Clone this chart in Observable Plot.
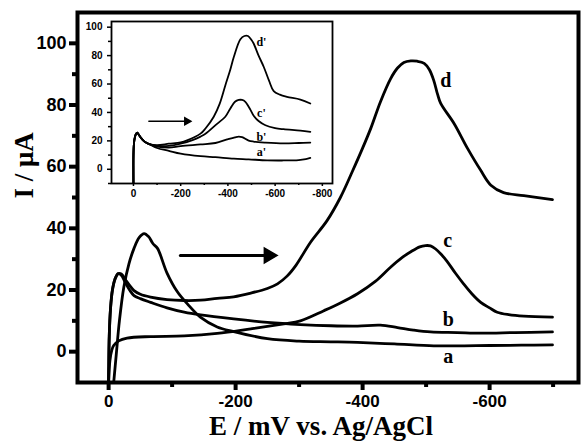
<!DOCTYPE html>
<html><head><meta charset="utf-8">
<script src="https://cdn.jsdelivr.net/npm/d3@7"></script>
<script src="https://cdn.jsdelivr.net/npm/@observablehq/plot@0.6"></script>
<style>
body{margin:0;background:#fff;}
#wrap{position:relative;width:583px;height:441px;overflow:hidden;background:#fff;}
#inset{position:absolute;left:81px;top:19px;}
</style></head><body><div id="wrap"></div>
<script>
// ---- main chart data (E in mV, I in µA) ----
const aX = [-8,-12,-17,-24,-32,-40,-48,-56,-63,-70,-77,-92,-108,-124,-145,-171,-197,-250,-300,-350,-392,-450,-512,-560,-600,-650,-699];
const aY = [-10,-1,10,21,28.5,33.5,37,38.3,37.3,35,33.5,25.5,19.5,15.5,11.1,8,6.5,4.2,3.4,3.2,3,2.5,1.9,1.9,2,2.1,2.2];
const bX = [0,-1,-3,-6,-10,-15,-20,-26,-33,-40,-50,-66,-92,-119,-145,-197,-250,-302,-350,-392,-428,-455,-480,-507,-549,-586,-640,-699];
const bY = [-10,5,14,20,23.5,25.3,24.8,22.5,20,18.2,17.2,16,14.2,12.8,11.9,10.6,9.5,8.8,8.4,8.3,8.6,7.8,7.0,6.4,6.2,6.0,6.2,6.4];
const cX = [0,-2,-5,-8,-16,-29,-66,-119,-171,-224,-276,-302,-339,-365,-392,-420,-444,-462,-476,-490,-499,-507,-515,-524,-533,-546,-559,-572,-586,-600,-612,-630,-654,-699];
const cY = [-10,-3,0.5,2,3.5,4.4,4.9,5.1,5.9,7.4,9,10,13.3,15.8,18.8,22.8,27.4,30.5,32.4,34,34.4,34.3,33.3,31.5,29.3,25.5,22,18.8,16,14.2,12.8,12,11.5,11.2];
const dX = [0,-1,-3,-6,-10,-15,-20,-26,-33,-40,-50,-66,-92,-119,-145,-171,-197,-224,-250,-266,-281,-295,-318,-344,-365,-384,-400,-413,-428,-444,-455,-465,-476,-486,-497,-505,-512,-518,-523,-544,-565,-586,-602,-622,-654,-699];
const dY = [-10,5,14,20,23.5,25.3,25.2,23.5,21.5,19.8,18.6,17.7,16.9,16.6,16.7,17.3,17.8,19,20.5,22,24.5,28,35.5,42.5,50,58.5,66,72.5,81,88.5,92,93.8,94.3,94.2,93.5,91.5,88,83.5,80.5,74,66,58.8,54,51.6,50.6,49.3];
const curveLabels = ["a","b","c","d"];
const labelX = [-535,-535,-534,-531];
const labelY = [-1.5,10.5,36,88];
const arrowX = [-113,-252];
const arrowY = [31.2,31.2];
const mainXTicks = [0,-200,-400,-600];
const mainXMinor = [-100,-300,-500,-700];
const mainYTicks = [0,20,40,60,80,100];
const mainYMinor = [10,30,50,70,90];

// ---- inset data ----
const startX = [0,0,-2,-6,-11,-16,-22,-30,-40,-51,-70];
const startY = [-10,10,18,22.5,25,25.8,24.5,22.5,20.5,19,17.5];
const iaX = [-100,-150,-200,-284,-347,-425,-488,-566,-629,-700,-730,-749];
const iaY = [15,13,11,9.2,8.5,7.5,7,6.3,6.2,6.5,7.2,8];
const ibX = [-100,-150,-200,-284,-347,-397,-430,-446,-460,-488,-509,-559,-636,-700,-749];
const ibY = [16,15.2,16.3,17.5,18.5,21,22.5,23,22.6,20.2,19.5,18.8,18.2,18.5,18.8];
const icX = [-100,-150,-200,-250,-284,-305,-354,-389,-411,-430,-446,-460,-474,-488,-495,-510,-530,-559,-600,-636,-707,-749];
const icY = [16.5,16.5,18,20.5,23,25,32,37,43,47.5,48.8,48.8,47.5,44,42,37.5,34,31,29,28.2,27.2,26.3];
const idX = [-100,-150,-200,-227,-284,-305,-340,-365,-389,-410,-425,-453,-470,-485,-500,-509,-530,-552,-575,-594,-620,-650,-707,-749];
const idY = [17,18,19,20.4,25.1,28.7,37,46,59,70,79,91.5,93.8,93.8,91,88.5,80,72,62,55,52.5,51,49.1,46.3];
const insetLabels = ["a'","b'","c'","d'"];
const insetLabelX = [-542,-542,-542,-542];
const insetLabelY = [12.2,22.7,39.2,89.6];
const insetArrowX = [-65,-226];
const insetArrowY = [33.8,33.8];
const insetXTicks = [0,-200,-400,-600,-800];
const insetXMinor = [-100,-300,-500,-700];
const insetYTicks = [0,20,40,60,80,100];
const insetYMinor = [-10,10,30,50,70,90];

const pts = (xs, ys, s) => xs.map((x, i) => ({x, y: ys[i], s}));
const mainData = [...pts(aX,aY,"a"),...pts(bX,bY,"b"),...pts(cX,cY,"c"),...pts(dX,dY,"d")];
const insetData = ["a","b","c","d"].flatMap((s, k) => {
  const xs = [[iaX,iaY],[ibX,ibY],[icX,icY],[idX,idY]][k];
  return [...pts(startX,startY,s), ...pts(xs[0],xs[1],s)];
});
const lbl = (t, xs, ys) => t.map((s, i) => ({s, x: xs[i], y: ys[i]}));
const fmt = d => String(d);
const SANS = "Liberation Sans, Arial, sans-serif";
const SERIF = "Liberation Serif, Times New Roman, serif";

const main = Plot.plot({
  width: 583, height: 441,
  marginLeft: 77, marginRight: 5, marginTop: 12, marginBottom: 59,
  x: {domain: [49, -740], label: null},
  y: {domain: [-10, 110], label: null},
  style: {background: "white", color: "black", overflow: "visible"},
  marks: [
    Plot.axisX({ticks: mainXTicks, tickFormat: fmt, tickSize: 8, tickPadding: 4, strokeWidth: 4, fontSize: 17, fontWeight: "bold", fontFamily: SANS, label: null}),
    Plot.axisX({ticks: mainXMinor, tickFormat: () => "", tickSize: 5, strokeWidth: 4, label: null}),
    Plot.axisY({ticks: mainYTicks, tickFormat: fmt, tickSize: 8, tickPadding: 3, strokeWidth: 4, fontSize: 18, fontWeight: "bold", fontFamily: SANS, label: null}),
    Plot.axisY({ticks: mainYMinor, tickFormat: () => "", tickSize: 5, strokeWidth: 4, label: null}),
    Plot.line(mainData, {x: "x", y: "y", z: "s", stroke: "black", strokeWidth: 2.8, curve: "catmull-rom", clip: true}),
    Plot.text(lbl(curveLabels, labelX, labelY), {x: "x", y: "y", text: "s", fontSize: 20, fontWeight: "bold", fontFamily: SERIF, fill: "black"}),
    Plot.line(pts(arrowX, arrowY, "arr"), {x: "x", y: "y", stroke: "black", strokeWidth: 3}),
    Plot.dot([{x: arrowX[1], y: arrowY[1]}], {x: "x", y: "y", symbol: "triangle", r: 5.5, fill: "black", stroke: "black", rotate: 90}),
    Plot.frame({strokeWidth: 4, stroke: "black"}),
    Plot.text(["E / mV vs. Ag/AgCl"], {frameAnchor: "bottom", lineAnchor: "bottom", dy: 52, dx: -7, fontSize: 27, fontWeight: "bold", fontFamily: SERIF, fill: "black"}),
    Plot.text(["I / μA"], {frameAnchor: "left", lineAnchor: "middle", rotate: -90, dx: -53, dy: 1, fontSize: 27, fontWeight: "bold", fontFamily: SERIF, fill: "black"})
  ]
});

const inset = Plot.plot({
  width: 255, height: 180,
  marginLeft: 30, marginRight: 4, marginTop: 2, marginBottom: 16,
  x: {domain: [93, -843], label: null},
  y: {domain: [-10, 104], label: null},
  style: {background: "white", color: "black", overflow: "visible"},
  marks: [
    Plot.axisX({ticks: insetXTicks, tickFormat: fmt, tickSize: 3, tickPadding: 3, strokeWidth: 1.5, fontSize: 10, fontWeight: "bold", fontFamily: SANS, label: null}),
    Plot.axisX({ticks: insetXMinor, tickFormat: () => "", tickSize: 2, strokeWidth: 1.5, label: null}),
    Plot.axisY({ticks: insetYTicks, tickFormat: fmt, tickSize: 4, tickPadding: 5, strokeWidth: 1.5, fontSize: 10, fontWeight: "bold", fontFamily: SANS, label: null}),
    Plot.axisY({ticks: insetYMinor, tickFormat: () => "", tickSize: 3, strokeWidth: 1.5, label: null}),
    Plot.line(insetData, {x: "x", y: "y", z: "s", stroke: "black", strokeWidth: 1.8, curve: "catmull-rom", clip: true}),
    Plot.text(lbl(insetLabels, insetLabelX, insetLabelY), {x: "x", y: "y", text: "s", fontSize: 12, fontWeight: "bold", fontFamily: SERIF, fill: "black"}),
    Plot.line(pts(insetArrowX, insetArrowY, "arr"), {x: "x", y: "y", stroke: "black", strokeWidth: 1.3}),
    Plot.dot([{x: insetArrowX[1], y: insetArrowY[1]}], {x: "x", y: "y", symbol: "triangle", r: 2.6, fill: "black", stroke: "black", rotate: 90}),
    Plot.frame({strokeWidth: 1.8, stroke: "black"})
  ]
});
inset.id = "inset";
const wrap = document.getElementById("wrap");
wrap.appendChild(main);
wrap.appendChild(inset);
</script></body></html>
